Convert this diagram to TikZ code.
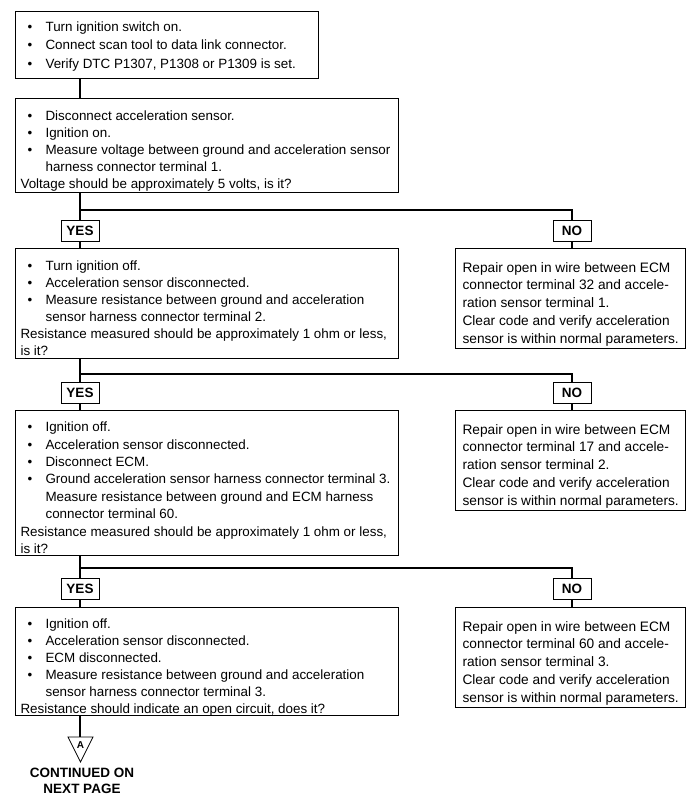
\documentclass[tikz,border=0pt]{standalone}
\usepackage{fontspec}
\setmainfont{Liberation Sans}
\newcommand{\bu}{\makebox[25pt][l]{\hspace{7pt}\textbullet}}
\newcommand{\ind}{\hspace*{25pt}}
% width, height, top pad, lines
\newcommand{\boxtext}[4]{\parbox[c][#2][t]{#1}{\vspace*{#3}\begin{tabular}{@{}l@{}}#4\end{tabular}}}
\begin{document}
\begin{tikzpicture}[x=1pt,y=-1pt,
  box/.style={draw, line width=1.1pt, anchor=north west, inner xsep=5pt, inner ysep=0pt,
    font=\fontsize{13.4}{17}\selectfont},
  rbox/.style={box, inner xsep=7pt, font=\fontsize{13.7}{17.8}\selectfont},
  lab/.style={draw, line width=1pt, fill=white, font=\bfseries\fontsize{13.5}{13.5}\selectfont,
    minimum width=38pt, minimum height=21pt, inner sep=2pt},
  conn/.style={line width=1.1pt}]
\useasboundingbox (0,0) rectangle (700,805);

% left column
\node[box, font=\fontsize{13.4}{18.5}\selectfont] (b1) at (15,11)
 {\boxtext{293pt}{67pt}{7pt}{\bu Turn ignition switch on.\\ \bu Connect scan tool to data link connector.\\ \bu Verify DTC P1307, P1308 or P1309 is set.}};
\node[box] (b2) at (15,98)
 {\boxtext{373pt}{94pt}{10pt}{\bu Disconnect acceleration sensor.\\ \bu Ignition on.\\ \bu Measure voltage between ground and acceleration sensor\\ \ind harness connector terminal 1.\\ Voltage should be approximately 5 volts, is it?}};
\node[box] (b3) at (15,248)
 {\boxtext{373pt}{110pt}{10pt}{\bu Turn ignition off.\\ \bu Acceleration sensor disconnected.\\ \bu Measure resistance between ground and acceleration\\ \ind sensor harness connector terminal 2.\\ Resistance measured should be approximately 1 ohm or less,\\ is it?}};
\node[box, font=\fontsize{13.4}{17.4}\selectfont] (b4) at (15,410)
 {\boxtext{373pt}{145pt}{9pt}{\bu Ignition off.\\ \bu Acceleration sensor disconnected.\\ \bu Disconnect ECM.\\ \bu Ground acceleration sensor harness connector terminal 3.\\ \ind Measure resistance between ground and ECM harness\\ \ind connector terminal 60.\\ Resistance measured should be approximately 1 ohm or less,\\ is it?}};
\node[box] (b5) at (15,607)
 {\boxtext{373pt}{108pt}{9pt}{\bu Ignition off.\\ \bu Acceleration sensor disconnected.\\ \bu ECM disconnected.\\ \bu Measure resistance between ground and acceleration\\ \ind sensor harness connector terminal 3.\\ Resistance should indicate an open circuit, does it?}};

% right column
\node[rbox] (n1) at (455,248)
 {\boxtext{216pt}{100pt}{11pt}{Repair open in wire between ECM\\ connector terminal 32 and accele-\\ ration sensor terminal 1.\\ Clear code and verify acceleration\\ sensor is within normal parameters.}};
\node[rbox] (n2) at (455,410)
 {\boxtext{216pt}{100pt}{11pt}{Repair open in wire between ECM\\ connector terminal 17 and accele-\\ ration sensor terminal 2.\\ Clear code and verify acceleration\\ sensor is within normal parameters.}};
\node[rbox] (n3) at (455,607)
 {\boxtext{216pt}{100pt}{11pt}{Repair open in wire between ECM\\ connector terminal 60 and accele-\\ ration sensor terminal 3.\\ Clear code and verify acceleration\\ sensor is within normal parameters.}};

% YES / NO labels
\node[lab] (y1) at (80,231) {YES};
\node[lab] (y2) at (80,393) {YES};
\node[lab] (y3) at (80,589) {YES};
\node[lab] (o1) at (572,231) {NO};
\node[lab] (o2) at (572,393) {NO};
\node[lab] (o3) at (572,589) {NO};

\coordinate (h1) at (80,210);
\coordinate (h2) at (80,374);
\coordinate (h3) at (80,568);

% connectors
\draw[conn] (y1 |- b1.south) -- (y1 |- b2.north);
\draw[conn] (y1 |- b2.south) -- (y1.north);
\draw[conn] (h1) -| (o1.north);
\draw[conn] (y1.south) -- (y1 |- b3.north);
\draw[conn] (o1.south) -- (o1 |- n1.north);

\draw[conn] (y2 |- b3.south) -- (y2.north);
\draw[conn] (h2) -| (o2.north);
\draw[conn] (y2.south) -- (y2 |- b4.north);
\draw[conn] (o2.south) -- (o2 |- n2.north);

\draw[conn] (y3 |- b4.south) -- (y3.north);
\draw[conn] (h3) -| (o3.north);
\draw[conn] (y3.south) -- (y3 |- b5.north);
\draw[conn] (o3.south) -- (o3 |- n3.north);

% off-page connector
\coordinate (tri) at (80,737);
\draw[conn] (y3 |- b5.south) -- (tri);
\draw[line width=0.8pt] (68,737) -- (93,737) -- (80.5,762) -- cycle;
\node[font=\bfseries\fontsize{10}{10}\selectfont, inner sep=0pt] (aa) at (80.5,745) {A};
\node[font=\bfseries\fontsize{13.5}{16}\selectfont, align=center, inner sep=0pt] (cont) at (82,781) {CONTINUED ON\\NEXT PAGE};
\end{tikzpicture}
\end{document}
